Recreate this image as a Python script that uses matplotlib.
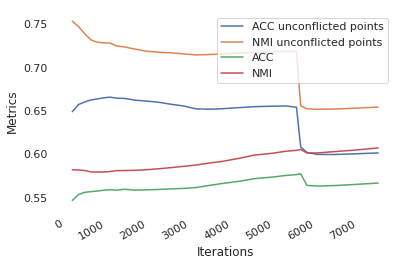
import matplotlib
matplotlib.use("Agg")
import matplotlib.pyplot as plt
import seaborn as sns

iterations = [200, 350, 500, 650, 800, 950, 1100, 1250, 1450, 1700, 1950, 2250, 2550, 2850,
              3150, 3450, 3750, 4150, 4550, 4950, 5300, 5550, 5650, 5800, 6050, 6450, 6950, 7500]

acc_unconflicted = [0.6492, 0.6575, 0.6605, 0.6628, 0.6640, 0.6652, 0.6660, 0.6648, 0.6645, 0.6625,
                    0.6615, 0.6602, 0.6578, 0.6558, 0.6525, 0.6520, 0.6525, 0.6538, 0.6550, 0.6555,
                    0.6558, 0.6543, 0.6085, 0.6020, 0.5998, 0.5997, 0.6005, 0.6015]
nmi_unconflicted = [0.7538, 0.7475, 0.7390, 0.7320, 0.7295, 0.7287, 0.7285, 0.7252, 0.7240, 0.7215,
                    0.7192, 0.7180, 0.7172, 0.7160, 0.7148, 0.7152, 0.7158, 0.7168, 0.7178, 0.7182,
                    0.7190, 0.7188, 0.6560, 0.6525, 0.6520, 0.6523, 0.6532, 0.6545]
acc = [0.5465, 0.5535, 0.5560, 0.5568, 0.5575, 0.5585, 0.5590, 0.5585, 0.5595, 0.5585,
       0.5588, 0.5593, 0.5600, 0.5605, 0.5615, 0.5638, 0.5660, 0.5685, 0.5718, 0.5735,
       0.5755, 0.5765, 0.5775, 0.5640, 0.5632, 0.5638, 0.5651, 0.5667]
nmi = [0.5820, 0.5818, 0.5812, 0.5795, 0.5795, 0.5795, 0.5800, 0.5810, 0.5812, 0.5814,
       0.5820, 0.5832, 0.5845, 0.5860, 0.5875, 0.5897, 0.5915, 0.5950, 0.5990, 0.6010,
       0.6035, 0.6045, 0.6055, 0.6015, 0.6015, 0.6030, 0.6048, 0.6073]

sns.set_theme(style="white")
plt.rcParams["font.family"] = ["DejaVu Sans"]

fig = plt.figure(figsize=(406 / 72, 265 / 72), dpi=72)
ax = fig.add_axes([57 / 406, 55.5 / 265, 336.5 / 406, 197.3 / 265])

ax.plot(iterations, acc_unconflicted, label="ACC unconflicted points")
ax.plot(iterations, nmi_unconflicted, label="NMI unconflicted points")
ax.plot(iterations, acc, label="ACC")
ax.plot(iterations, nmi, label="NMI")

ax.set_xticks(range(0, 8000, 1000))
ax.set_yticks([0.55, 0.60, 0.65, 0.70, 0.75])
for lab in ax.get_xticklabels():
    lab.set_rotation(30)
    lab.set_ha("right")

ax.set_xlabel("Iterations")
ax.set_ylabel("Metrics")
ax.legend(loc="upper right")
sns.despine(ax=ax, left=True, bottom=True)

fig.savefig("out.png", dpi=72)
